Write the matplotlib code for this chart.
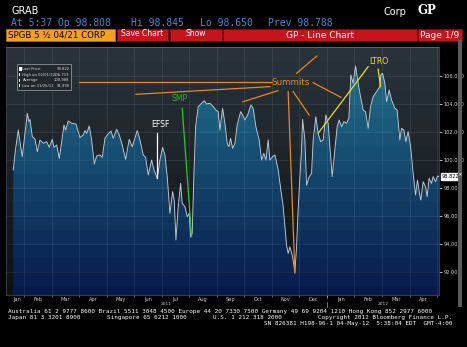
import numpy as np
import matplotlib
matplotlib.use("Agg")
import matplotlib.pyplot as plt
from matplotlib.patches import Rectangle
from matplotlib.transforms import blended_transform_factory

# x = months since 1 Jan 2011 (1.0 = 1 Feb 2011, 12.0 = 1 Jan 2012)
months = [0.612, 0.673, 0.793, 0.880, 0.938, 1.036, 1.120, 1.181, 1.218, 1.301,
          1.399, 1.483, 1.581, 1.701, 1.824, 1.918, 2.027, 2.089, 2.187, 2.281,
          2.343, 2.452, 2.514, 2.608, 2.731, 2.887, 3.033, 3.152, 3.214, 3.276,
          3.370, 3.457, 3.552, 3.639, 3.759, 3.842, 3.940, 4.024, 4.158, 4.241,
          4.365, 4.459, 4.583, 4.691, 4.822, 4.931, 5.113, 5.211, 5.330, 5.417,
          5.512, 5.635, 5.719, 5.838, 5.936, 6.034, 6.118, 6.201, 6.299, 6.397,
          6.456, 6.517, 6.601, 6.688, 6.746, 6.844, 6.927, 7.000, 7.051, 7.109,
          7.171, 7.232, 7.327, 7.450, 7.545, 7.632, 7.751, 7.871, 7.969, 8.053,
          8.114, 8.212, 8.296, 8.379, 8.441, 8.503, 8.575, 8.659, 8.742, 8.866,
          8.938, 9.022, 9.120, 9.240, 9.323, 9.421, 9.541, 9.628, 9.711, 9.784,
          9.868, 9.929, 10.027, 10.111, 10.231, 10.318, 10.412, 10.474, 10.535, 10.593,
          10.655, 10.753, 10.837, 10.898, 10.956, 11.018, 11.073, 11.116, 11.200, 11.261,
          11.319, 11.356, 11.443, 11.501, 11.599, 11.682, 11.770, 11.864, 11.962, 12.045,
          12.107, 12.191, 12.289, 12.372, 12.445, 12.532, 12.615, 12.713, 12.797, 12.869,
          12.953, 13.040, 13.134, 13.221, 13.316, 13.403, 13.497, 13.585, 13.679, 13.802,
          13.922, 13.958, 14.020, 14.103, 14.165, 14.260, 14.347, 14.466, 14.550, 14.648,
          14.710, 14.793, 14.866, 14.949, 15.036, 15.131, 15.218, 15.290, 15.348, 15.410,
          15.494, 15.581, 15.639, 15.711, 15.799, 15.857, 15.944, 16.016, 16.064]
prices = [99.29, 100.48, 102.14, 100.95, 100.24, 101.90, 103.33, 102.74, 102.90, 101.67,
          101.50, 100.60, 101.43, 101.19, 101.31, 100.90, 101.48, 100.90, 101.07, 100.12,
          100.95, 102.50, 102.14, 102.79, 102.62, 102.57, 101.60, 101.79, 102.10, 101.90,
          102.43, 101.43, 99.71, 100.29, 100.36, 100.19, 101.55, 101.79, 102.07, 101.55,
          102.19, 101.79, 100.95, 100.05, 101.48, 100.95, 102.10, 101.43, 100.36, 100.19,
          98.93, 100.00, 99.29, 98.69, 100.00, 100.90, 100.36, 98.81, 96.19, 97.74,
          97.14, 94.29, 96.67, 98.33, 96.90, 96.67, 95.95, 96.19, 94.52, 94.76,
          99.05, 102.38, 103.81, 104.05, 104.24, 104.00, 104.05, 103.81, 103.57, 103.45,
          102.14, 103.69, 102.62, 101.19, 100.95, 101.55, 100.83, 101.19, 102.50, 103.45,
          103.21, 102.86, 103.21, 103.93, 103.69, 102.38, 101.43, 100.00, 100.48, 100.00,
          101.43, 100.00, 100.24, 100.36, 99.29, 98.00, 96.67, 95.24, 93.90, 93.33,
          93.80, 93.10, 91.99, 93.81, 96.50, 98.80, 100.50, 102.90, 101.43, 98.20,
          98.57, 98.81, 99.05, 101.43, 103.09, 101.90, 101.31, 101.43, 103.21, 102.62,
          100.95, 98.81, 100.71, 102.38, 102.86, 102.38, 102.74, 102.62, 102.98, 106.07,
          105.48, 106.71, 105.48, 104.52, 103.57, 103.45, 102.26, 103.81, 104.52, 104.88,
          105.24, 106.07, 106.19, 105.48, 104.17, 105.00, 104.29, 103.69, 103.57, 101.43,
          102.26, 102.14, 101.31, 102.02, 101.00, 99.05, 97.50, 98.57, 97.74, 97.14,
          98.45, 98.10, 97.38, 98.69, 98.33, 98.81, 98.45, 98.86, 98.82]

month_labels = ['Jan', 'Feb', 'Mar', 'Apr', 'May', 'Jun', 'Jul', 'Aug', 'Sep',
                'Oct', 'Nov', 'Dec', 'Jan', 'Feb', 'Mar', 'Apr']
year_labels = ['2011', '2012']
yticks = [92, 94, 96, 98, 100, 102, 104, 106]
legend_rows = [('Last Price', '98.822'), ('High on 02/01/12', '106.713'),
               ('Average', '100.988'), ('Low on 11/25/11', '91.990')]
last_price = 98.822

W, H = 467, 347


def fx(px):
    return px / W


def fy(py):
    return 1 - py / H


fig = plt.figure(figsize=(W / 100, H / 100), dpi=100, facecolor='black')

# header
fig.text(fx(11), fy(11), 'GRAB', color='white', fontsize=7, va='center')
blue = '#3f8fd8'
mono = 'DejaVu Sans Mono'
for px, s in [(11, 'At 5:37 Op 98.808'), (131, 'Hi 98.845'), (200, 'Lo 98.650'), (268, 'Prev 98.788')]:
    fig.text(fx(px), fy(23), s, color=blue, fontsize=7.0, family=mono, va='center')
fig.text(fx(383), fy(12), 'Corp', color='white', fontsize=7, va='center')
fig.text(fx(417), fy(11), 'GP', color='white', fontsize=8.5, weight='bold', family='DejaVu Serif', va='center')

# button bar
fig.patches.append(Rectangle((fx(6), fy(41)), fx(109), 12 / H, transform=fig.transFigure,
                             facecolor='#f5a01e', edgecolor='#c07010', lw=0.5))
fig.text(fx(8), fy(35.5), 'SPGB 5 ½ 04/21 CORP', color='black', fontsize=6.2, va='center')
for x0, x1 in [(117, 168), (170, 222), (223, 417), (418, 462)]:
    fig.patches.append(Rectangle((fx(x0), fy(41)), fx(x1 - x0), 12 / H, transform=fig.transFigure,
                                 facecolor='#c4141c', edgecolor='#7a0a0e', lw=0.5))
fig.text(fx(142.5), fy(34), 'Save Chart', color='white', fontsize=5.5, ha='center', va='center')
fig.text(fx(196), fy(34), 'Show', color='white', fontsize=5.5, ha='center', va='center')
fig.text(fx(320), fy(35.5), 'GP - Line Chart', color='white', fontsize=6.5, ha='center', va='center')
fig.text(fx(440), fy(35.5), 'Page 1/9', color='white', fontsize=6.5, ha='center', va='center')

# scrollbar
fig.patches.append(Rectangle((fx(458), fy(307)), fx(4), 267 / H, transform=fig.transFigure,
                             facecolor='#5a5a5a', edgecolor='none'))
fig.text(fx(460), fy(175), '×', color='white', fontsize=4, ha='center', va='center')

# chart
ax = fig.add_axes([fx(6), fy(295), fx(433), 248 / H])
x = np.array(months)
y = np.array(prices)
ymin, ymax = 90.36, 108.07
xmin, xmax = 0.347, 16.07

top_bg, bot_bg = np.array([0x2a, 0x33, 0x3b]) / 255, np.array([0x0b, 0x0e, 0x12]) / 255
top_fill, bot_fill = np.array([0x22, 0x76, 0x8e]) / 255, np.array([0x06, 0x16, 0x48]) / 255
bands = list(range(90, 108))
for lo in bands:
    t = (lo + 0.5 - 90) / 18
    cb = bot_bg + (top_bg - bot_bg) * t
    cf = bot_fill + (top_fill - bot_fill) * t
    ax.axhspan(lo, lo + 1, color=cb, lw=0, zorder=0)
    ax.fill_between(x, lo, np.minimum(y, lo + 1), where=y > lo, interpolate=True,
                    facecolor=cf, edgecolor=cf, lw=0.3, zorder=1)

for m in range(1, 17):
    ax.axvline(m, color='white', alpha=0.09, lw=0.6, zorder=2)
for v in yticks:
    ax.axhline(v, color='white', alpha=0.09, lw=0.6, zorder=2)

ax.plot(x, y, color='#c4ccd4', lw=0.65, zorder=3)

ax.set_xlim(xmin, xmax)
ax.set_ylim(ymin, ymax)
for sp in ax.spines.values():
    sp.set_color('#3c444c')
    sp.set_linewidth(0.6)

ax.yaxis.tick_right()
ax.set_yticks(yticks)
ax.set_yticklabels(['%.3f' % v for v in yticks])
ax.tick_params(axis='y', colors='white', labelsize=3.6, length=2, width=0.5, pad=1,
               labelcolor='#d0d0d0')
ax.set_xticks(range(1, 17))
ax.set_xticklabels([])
ax.tick_params(axis='x', which='major', colors='#aaaaaa', length=1.5, width=0.4)
label_pos = [0.75] + [m + 0.5 for m in range(1, 16)]
ax.set_xticks(label_pos, minor=True)
ax.set_xticklabels(month_labels, minor=True)
ax.tick_params(axis='x', which='minor', length=0, labelsize=3.6, labelcolor='#d0d0d0', pad=1.2)

tr = blended_transform_factory(ax.transData, ax.transAxes)
ax.text((xmin + 12) / 2, -0.038, year_labels[0], transform=tr, fontsize=3.2, color='#cccccc',
        ha='center', va='center')
ax.text((12 + xmax) / 2, -0.038, year_labels[1], transform=tr, fontsize=3.2, color='#cccccc',
        ha='center', va='center')
ax.plot([12, 12], [0, -0.012], transform=tr, color='#aaaaaa', lw=0.5, clip_on=False)
ax.plot([12, 12], [-0.028, -0.05], transform=tr, color='#aaaaaa', lw=0.5, clip_on=False)

tr2 = blended_transform_factory(ax.transAxes, ax.transData)
ax.text(1.006, last_price, '%.3f' % last_price, transform=tr2, fontsize=3.6, color='black',
        va='center', bbox=dict(facecolor='white', edgecolor='white', pad=0.6))

# annotations
orange = '#e8891c'
kw = dict(color=orange, lw=0.9, zorder=5, clip_on=False)
ax.plot([3.0, 10.0], [105.6, 105.6], **kw)
ax.plot([5.065, 9.929], [104.69, 105.24], **kw)
ax.plot([10.22, 8.95], [104.95, 104.16], **kw)
ax.plot([10.898, 11.635], [106.19, 107.43], **kw)
ax.plot([10.593, 10.837], [104.88, 91.93], **kw)
ax.plot([10.775, 11.356], [104.88, 103.21], **kw)
ax.plot([11.501, 12.506], [105.52, 104.48], **kw)
ax.text(10.69, 105.57, 'Summits', color=orange, fontsize=6.3, ha='center', va='center', zorder=6)

ax.plot([6.746, 7.087], [103.69, 94.52], color='#22d022', lw=0.9, zorder=5)
ax.text(6.662, 104.36, 'SMP', color='#22c022', fontsize=5.6, ha='center', va='center', zorder=6)

ax.plot([5.838, 5.838], [101.93, 98.71], color='white', lw=0.9, zorder=5)
ax.text(5.955, 102.5, 'EFSF', color='white', fontsize=5.6, ha='center', va='center', zorder=6)

yellow = '#f0e020'
ax.plot([13.497, 11.682], [106.66, 101.91], color=yellow, lw=0.9, zorder=5)
ax.plot([13.86, 13.947], [106.48, 105.24], color=yellow, lw=0.9, zorder=5)
ax.text(13.904, 107.0, 'LTRO', color=yellow, fontsize=5.6, ha='center', va='center', zorder=6)

# legend box
fig.patches.append(Rectangle((fx(17), fy(90)), fx(54), 26 / H, transform=fig.transFigure,
                             facecolor='#20272e', edgecolor='#8c9196', lw=0.6, zorder=10))
for i, (lab, val) in enumerate(legend_rows):
    py = 69 + i * 5.6
    fig.patches.append(Rectangle((fx(19), fy(py + 1.5)), fx(2.5 if i == 0 else 1.2), 3 / H,
                                 transform=fig.transFigure, facecolor='white', edgecolor='none', zorder=11))
    fig.text(fx(22.5), fy(py), lab, color='#dddddd', fontsize=2.7, va='center', zorder=11)
    fig.text(fx(69.5), fy(py), val, color='#dddddd', fontsize=2.7, va='center', ha='right', zorder=11)

# footer (baseline aligned)
foot_kw = dict(color='white', fontsize=4.35, family=mono, va='baseline')
fig.text(fx(8), fy(312.5),
         'Australia 61 2 9777 8600 Brazil 5511 3048 4500 Europe 44 20 7330 7500 '
         'Germany 49 69 9204 1210 Hong Kong 852 2977 6000', **foot_kw)
fig.text(fx(8), fy(319), 'Japan 81 3 3201 8900', **foot_kw)
fig.text(fx(107), fy(319), 'Singapore 65 6212 1000', **foot_kw)
fig.text(fx(213), fy(319), 'U.S. 1 212 318 2000', **foot_kw)
fig.text(fx(452), fy(319), 'Copyright 2012 Bloomberg Finance L.P.', ha='right', **foot_kw)
fig.text(fx(452), fy(325.5), 'SN 826381 H198-96-1 04-May-12  5:38:04 EDT  GMT-4:00', ha='right',
         **foot_kw)

fig.savefig('out.png', dpi=100, facecolor='black')
